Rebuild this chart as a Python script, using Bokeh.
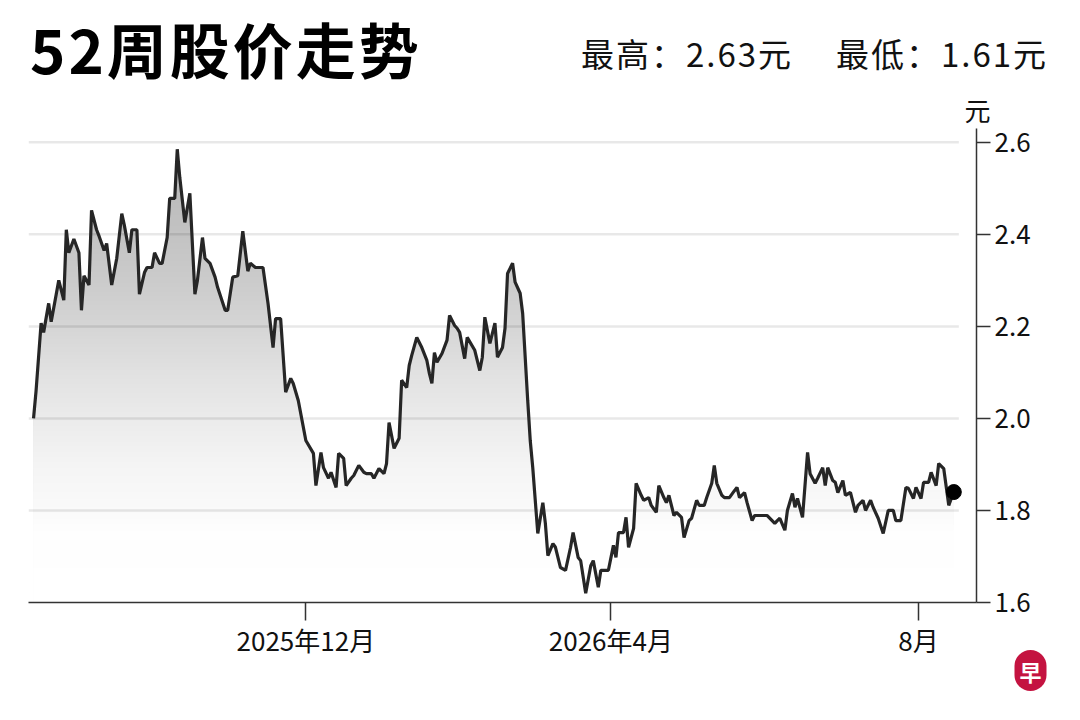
import numpy as np
import pandas as pd
from bokeh.plotting import figure
from bokeh.layouts import column
from bokeh.models import Range1d, FixedTicker, Label, Div
from bokeh.embed import file_html
from bokeh.resources import INLINE

# ---------------- data ----------------
title_text = "52周股价走势"
high_label = "最高："
low_label = "最低："
currency = "元"
high_52w = 2.63
low_52w = 1.61
logo_text = "早"

dates = [
    "2025-08-15", "2025-08-16", "2025-08-18", "2025-08-19", "2025-08-21", "2025-08-22",
    "2025-08-24", "2025-08-25", "2025-08-27", "2025-08-28", "2025-08-29", "2025-08-31",
    "2025-09-02", "2025-09-03", "2025-09-04", "2025-09-06", "2025-09-07", "2025-09-09",
    "2025-09-10", "2025-09-12", "2025-09-13", "2025-09-15", "2025-09-17", "2025-09-19",
    "2025-09-20", "2025-09-22", "2025-09-23", "2025-09-25", "2025-09-26", "2025-09-28",
    "2025-09-29", "2025-10-01", "2025-10-02", "2025-10-04", "2025-10-05", "2025-10-07",
    "2025-10-08", "2025-10-10", "2025-10-11", "2025-10-12", "2025-10-14", "2025-10-16",
    "2025-10-18", "2025-10-19", "2025-10-21", "2025-10-22", "2025-10-24", "2025-10-26",
    "2025-10-27", "2025-10-30", "2025-10-31", "2025-11-02", "2025-11-04", "2025-11-06",
    "2025-11-08", "2025-11-09", "2025-11-11", "2025-11-14", "2025-11-16", "2025-11-18",
    "2025-11-19", "2025-11-21", "2025-11-23", "2025-11-25", "2025-11-26", "2025-11-28",
    "2025-12-01", "2025-12-04", "2025-12-05", "2025-12-07", "2025-12-08", "2025-12-10",
    "2025-12-11", "2025-12-13", "2025-12-14", "2025-12-16", "2025-12-17", "2025-12-19",
    "2025-12-20", "2025-12-22", "2025-12-24", "2025-12-25", "2025-12-27", "2025-12-28",
    "2025-12-30", "2026-01-01", "2026-01-02", "2026-01-03", "2026-01-05", "2026-01-07",
    "2026-01-08", "2026-01-10", "2026-01-11", "2026-01-12", "2026-01-14", "2026-01-16",
    "2026-01-18", "2026-01-19", "2026-01-20", "2026-01-21", "2026-01-22", "2026-01-24",
    "2026-01-26", "2026-01-27", "2026-01-29", "2026-01-30", "2026-01-31", "2026-02-02",
    "2026-02-03", "2026-02-06", "2026-02-08", "2026-02-09", "2026-02-10", "2026-02-12",
    "2026-02-14", "2026-02-15", "2026-02-17", "2026-02-18", "2026-02-19", "2026-02-21",
    "2026-02-22", "2026-02-24", "2026-02-25", "2026-02-27", "2026-02-28", "2026-03-01",
    "2026-03-03", "2026-03-05", "2026-03-06", "2026-03-07", "2026-03-09", "2026-03-10",
    "2026-03-12", "2026-03-14", "2026-03-16", "2026-03-17", "2026-03-19", "2026-03-20",
    "2026-03-22", "2026-03-24", "2026-03-25", "2026-03-27", "2026-03-28", "2026-03-31",
    "2026-04-02", "2026-04-03", "2026-04-04", "2026-04-06", "2026-04-07", "2026-04-08",
    "2026-04-10", "2026-04-11", "2026-04-13", "2026-04-14", "2026-04-16", "2026-04-17",
    "2026-04-19", "2026-04-20", "2026-04-22", "2026-04-23", "2026-04-24", "2026-04-26",
    "2026-04-27", "2026-04-29", "2026-04-30", "2026-05-02", "2026-05-03", "2026-05-05",
    "2026-05-06", "2026-05-08", "2026-05-09", "2026-05-11", "2026-05-12", "2026-05-13",
    "2026-05-15", "2026-05-16", "2026-05-18", "2026-05-20", "2026-05-21", "2026-05-22",
    "2026-05-24", "2026-05-25", "2026-05-27", "2026-05-28", "2026-05-30", "2026-06-02",
    "2026-06-05", "2026-06-06", "2026-06-07", "2026-06-09", "2026-06-10", "2026-06-12",
    "2026-06-13", "2026-06-14", "2026-06-16", "2026-06-18", "2026-06-19", "2026-06-21",
    "2026-06-22", "2026-06-24", "2026-06-25", "2026-06-26", "2026-06-28", "2026-06-29",
    "2026-06-30", "2026-07-02", "2026-07-03", "2026-07-05", "2026-07-07", "2026-07-08",
    "2026-07-10", "2026-07-11", "2026-07-13", "2026-07-14", "2026-07-16", "2026-07-18",
    "2026-07-20", "2026-07-22", "2026-07-23", "2026-07-25", "2026-07-27", "2026-07-28",
    "2026-07-30", "2026-07-31", "2026-08-02", "2026-08-03", "2026-08-05", "2026-08-06",
    "2026-08-08", "2026-08-09", "2026-08-11", "2026-08-13", "2026-08-14", "2026-08-15",
]

prices = [
    2.000, 2.060, 2.207, 2.187, 2.250, 2.210,
    2.270, 2.300, 2.257, 2.410, 2.360, 2.390,
    2.360, 2.235, 2.310, 2.290, 2.452, 2.410,
    2.396, 2.365, 2.380, 2.290, 2.348, 2.445,
    2.420, 2.360, 2.410, 2.410, 2.270, 2.317,
    2.328, 2.328, 2.360, 2.337, 2.337, 2.393,
    2.478, 2.478, 2.585, 2.524, 2.426, 2.489,
    2.270, 2.300, 2.393, 2.348, 2.337, 2.307,
    2.285, 2.235, 2.235, 2.307, 2.310, 2.407,
    2.320, 2.337, 2.328, 2.328, 2.250, 2.154,
    2.217, 2.217, 2.057, 2.087, 2.076, 2.039,
    1.952, 1.924, 1.854, 1.926, 1.893, 1.870,
    1.883, 1.850, 1.924, 1.913, 1.854, 1.870,
    1.876, 1.898, 1.883, 1.880, 1.880, 1.870,
    1.891, 1.880, 1.902, 1.991, 1.935, 1.957,
    2.083, 2.067, 2.115, 2.137, 2.176, 2.154,
    2.126, 2.098, 2.076, 2.143, 2.122, 2.141,
    2.170, 2.224, 2.202, 2.196, 2.187, 2.130,
    2.176, 2.148, 2.104, 2.133, 2.220, 2.163,
    2.207, 2.133, 2.154, 2.196, 2.315, 2.337,
    2.296, 2.272, 2.228, 2.039, 1.952, 1.893,
    1.750, 1.817, 1.772, 1.702, 1.728, 1.720,
    1.676, 1.670, 1.720, 1.752, 1.698, 1.691,
    1.620, 1.680, 1.691, 1.633, 1.670, 1.670,
    1.724, 1.698, 1.752, 1.752, 1.785, 1.720,
    1.761, 1.859, 1.833, 1.822, 1.828, 1.811,
    1.796, 1.854, 1.828, 1.817, 1.833, 1.789,
    1.796, 1.785, 1.741, 1.778, 1.783, 1.822,
    1.811, 1.811, 1.828, 1.859, 1.898, 1.859,
    1.833, 1.828, 1.828, 1.843, 1.850, 1.828,
    1.839, 1.817, 1.778, 1.789, 1.789, 1.789,
    1.772, 1.778, 1.783, 1.757, 1.800, 1.837,
    1.807, 1.826, 1.785, 1.926, 1.880, 1.859,
    1.870, 1.893, 1.854, 1.893, 1.865, 1.861,
    1.839, 1.865, 1.833, 1.839, 1.796, 1.811,
    1.822, 1.800, 1.822, 1.807, 1.783, 1.750,
    1.800, 1.800, 1.778, 1.778, 1.850, 1.848,
    1.826, 1.850, 1.826, 1.861, 1.861, 1.883,
    1.854, 1.902, 1.891, 1.811, 1.826, 1.840,
]

x_tick_dates = ["2025-12-01", "2026-04-01", "2026-08-01"]
x_tick_labels = ["2025年12月", "2026年4月", "8月"]
y_ticks = [1.6, 1.8, 2.0, 2.2, 2.4, 2.6]
y_tick_labels = ["1.6", "1.8", "2.0", "2.2", "2.4", "2.6"]

# ---------------- styles ----------------
FONT = "Noto Sans CJK SC"
TXT = "#111111"
LINE_COLOR = "#262626"
AXIS_COLOR = "#333333"
LOGO_RED = "#c41340"
# vertical gradient of the area fill: price level -> grey level
grad_vals = [1.60, 1.75, 1.80, 1.90, 2.00, 2.10, 2.20, 2.30, 2.40, 2.50, 2.60, 2.63]
grad_grey = [255, 254, 250, 244, 235, 225, 213, 203, 195, 187, 181, 179]

W = 1064
HEAD_H = 90
MAIN_H = 704 - HEAD_H
FRAME_TOP = 128 - HEAD_H

# ---------------- helpers ----------------
def to_ms(d):
    return pd.Timestamp(d).value / 1e6


def clip_below(x, y, level):
    """Polyline min(y, level) with exact crossing points inserted."""
    ox, oy = [], []
    for i in range(len(x) - 1):
        ox.append(x[i]); oy.append(min(y[i], level))
        a, b = y[i] - level, y[i + 1] - level
        if a * b < 0:
            t = (level - y[i]) / (y[i + 1] - y[i])
            ox.append(x[i] + t * (x[i + 1] - x[i])); oy.append(level)
    ox.append(x[-1]); oy.append(min(y[-1], level))
    return np.array(ox), np.array(oy)


xs = np.array([to_ms(d) for d in dates])
ys = np.array(prices)
DAY = 86400000.0
x_start = xs[0] - 2 * DAY
x_end = xs[-1] + 9 * DAY
y_floor = y_ticks[0]

# ---------------- header (title + 52-week high/low) ----------------
def span(left, top, size, text, weight="normal", color=TXT, spacing=0):
    return (f'<span style="position:absolute;left:{left}px;top:{top}px;font-size:{size}px;'
            f'line-height:{size}px;font-weight:{weight};color:{color};'
            f'letter-spacing:{spacing}px;white-space:nowrap;">{text}</span>')

header_html = (
    f'<div style="position:relative;width:{W}px;height:{HEAD_H}px;'
    f"font-family:'{FONT}';\">"
    + span(30, 18, 60, title_text, "bold", "#000000", 3)
    + span(581, 37, 33, f"{high_label}{high_52w:.2f}{currency}", spacing=2)
    + span(836, 37, 33, f"{low_label}{low_52w:.2f}{currency}", spacing=2)
    + "</div>"
)
header = Div(text=header_html, width=W, height=HEAD_H, margin=0)

# ---------------- main chart ----------------
p = figure(width=W, height=MAIN_H, output_backend="svg", toolbar_location=None,
           x_range=Range1d(x_start, x_end), y_range=Range1d(y_floor, high_52w),
           y_axis_location="right",
           min_border_left=28, min_border_right=88, min_border_top=FRAME_TOP,
           min_border_bottom=102)
p.outline_line_color = None
p.background_fill_color = "white"
p.border_fill_color = "white"
p.xgrid.visible = False
p.ygrid.visible = False

# area with a vertical grey gradient: opaque layers, darkest first
for g in range(grad_grey[-1], 256):
    if g == grad_grey[-1]:
        lvl = high_52w + 1.0
    else:
        lvl = float(np.interp(g - 0.5, grad_grey[::-1], grad_vals[::-1]))
    cx, cy = clip_below(xs, ys, lvl)
    p.varea(x=cx, y1=y_floor, y2=cy, fill_color=(g, g, g), fill_alpha=1.0)

# horizontal grid lines (stop just right of the data)
grid_levels = [v for v in y_ticks if v > y_floor]
grid_x1 = xs[-1] + 2 * DAY
p.segment(x0=x_start, x1=grid_x1, y0=grid_levels, y1=grid_levels,
          line_color="black", line_alpha=0.09, line_width=2.5)

# price line and latest price dot
p.line(xs, ys, line_color=LINE_COLOR, line_width=3.2)
p.scatter([xs[-1]], [ys[-1]], size=15, color="black")

# axes
xa = p.xaxis[0]
xa.ticker = FixedTicker(ticks=[to_ms(d) for d in x_tick_dates])
xa.major_label_overrides = {to_ms(d): lab for d, lab in zip(x_tick_dates, x_tick_labels)}
xa.axis_line_color = AXIS_COLOR
xa.axis_line_width = 1.5
xa.major_tick_line_color = AXIS_COLOR
xa.major_tick_line_width = 1.5
xa.major_tick_out = 18
xa.major_tick_in = 0
xa.minor_tick_line_color = None
xa.major_label_standoff = 0
xa.major_label_text_font = FONT
xa.major_label_text_font_size = "26px"
xa.major_label_text_color = TXT

ya = p.yaxis[0]
ya.ticker = FixedTicker(ticks=y_ticks)
ya.major_label_overrides = {v: lab for v, lab in zip(y_ticks, y_tick_labels)}
ya.axis_line_color = AXIS_COLOR
ya.axis_line_width = 1.5
ya.major_tick_line_color = AXIS_COLOR
ya.major_tick_line_width = 1.5
ya.major_tick_out = 14
ya.major_tick_in = 0
ya.minor_tick_line_color = None
ya.major_label_standoff = 4
ya.major_label_text_font = FONT
ya.major_label_text_font_size = "26px"
ya.major_label_text_color = TXT

# unit label above the price axis (above panel: x from frame left, y up from frame top)
p.add_layout(Label(x=949, y=19, x_units="screen", y_units="screen", text=currency,
                   text_font=FONT, text_font_size="26px", text_color=TXT,
                   text_align="center", text_baseline="middle"), "above")

# logo (below panel: x from frame left, y from the label's own panel bottom)
p.add_layout(Label(x=1002, y=31, x_units="screen", y_units="screen", text=logo_text,
                   text_font=FONT, text_font_size="22px", text_font_style="bold",
                   text_color="white", text_align="center", text_baseline="middle",
                   background_fill_color=LOGO_RED, background_fill_alpha=1.0,
                   padding=dict(left=5, right=5, top=5, bottom=4), border_radius=17), "below")

layout = column(header, p, spacing=0)
open("out.html", "w").write(file_html(layout, INLINE))
